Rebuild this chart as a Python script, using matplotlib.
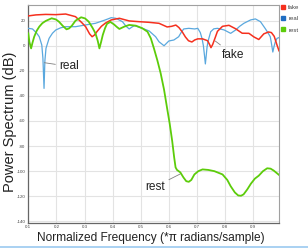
import matplotlib
matplotlib.use("Agg")
import matplotlib.pyplot as plt
from matplotlib.lines import Line2D

# ---------------- data ----------------
fake_x = [0.100, 0.127, 0.162, 0.198, 0.233, 0.268, 0.290, 0.304, 0.318, 0.327, 0.335, 0.345,
          0.360, 0.374, 0.395, 0.424, 0.459, 0.494, 0.529, 0.565, 0.594, 0.610, 0.625, 0.636,
          0.648, 0.659, 0.670, 0.682, 0.692, 0.703, 0.720, 0.738, 0.745, 0.750, 0.756, 0.765,
          0.773, 0.791, 0.814, 0.838, 0.861, 0.885, 0.903, 0.920, 0.938, 0.955, 0.965, 0.975,
          0.985, 0.992]
fake_y = [23.8, 24.6, 25.0, 24.8, 25.3, 23.2, 18.5, 15.2, 9.5, 7.2, 8.5, 11.5,
          15.5, 18.0, 20.6, 21.9, 19.8, 19.2, 18.7, 17.9, 15.0, 15.5, 16.5, 14.5,
          11.0, 7.0, 4.0, 3.0, 4.6, 5.5, 5.5, 4.0, 1.0, -1.5, 1.0, 6.5,
          11.5, 15.5, 16.3, 13.5, 10.0, 9.9, 7.0, 5.0, 9.5, 11.0, 10.5, 7.5,
          0.5, -4.0]

real_x = [0.100, 0.115, 0.130, 0.139, 0.148, 0.152, 0.156, 0.159, 0.163, 0.174, 0.186, 0.198,
          0.215, 0.233, 0.268, 0.304, 0.339, 0.374, 0.395, 0.412, 0.435, 0.448, 0.459, 0.468,
          0.477, 0.492, 0.506, 0.530, 0.553, 0.565, 0.583, 0.600, 0.618, 0.635, 0.645, 0.653,
          0.671, 0.692, 0.703, 0.712, 0.718, 0.723, 0.727, 0.730, 0.733, 0.736, 0.740, 0.749,
          0.760, 0.773, 0.797, 0.820, 0.838, 0.852, 0.867, 0.891, 0.908, 0.926, 0.944, 0.955,
          0.961, 0.965, 0.970, 0.975, 0.979, 0.985, 0.992]
real_y = [13.9, 13.4, 10.0, 7.2, 0.6, -10.0, -34.0, -12.0, -2.0, 5.9, 10.0, 12.6,
          14.3, 15.2, 15.2, 16.6, 17.9, 20.6, 22.4, 21.9, 19.2, 15.5, 13.4, 14.8,
          16.0, 15.0, 13.9, 11.8, 7.2, 3.2, 0.0, 3.8, 4.6, 7.2, 11.0, 13.4,
          13.9, 13.4, 13.9, 10.5, 5.9, 0.0, -8.0, -14.5, -8.0, -1.0, 4.0, 11.2,
          13.5, 13.9, 12.6, 9.9, 12.6, 15.5, 17.9, 20.6, 21.4, 19.2, 13.4, 9.5,
          7.2, 2.0, -5.0, 0.0, 3.2, 5.9, 6.5]

rest_x = [0.100, 0.104, 0.110, 0.115, 0.121, 0.130, 0.139, 0.150, 0.162, 0.183, 0.198, 0.209,
          0.222, 0.236, 0.245, 0.255, 0.268, 0.288, 0.302, 0.315, 0.328, 0.339, 0.347, 0.353,
          0.359, 0.365, 0.373, 0.380, 0.392, 0.405, 0.415, 0.424, 0.441, 0.459, 0.483, 0.506,
          0.524, 0.536, 0.547, 0.559, 0.571, 0.583, 0.594, 0.603, 0.612, 0.619, 0.624, 0.629,
          0.641, 0.652, 0.662, 0.671, 0.680, 0.691, 0.705, 0.720, 0.740, 0.762, 0.791, 0.808,
          0.820, 0.835, 0.847, 0.857, 0.866, 0.879, 0.892, 0.906, 0.920, 0.935, 0.950, 0.962,
          0.973, 0.985, 0.992]
rest_y = [9.9, 3.0, -2.1, 2.5, 7.2, 12.0, 15.2, 18.0, 19.8, 21.9, 21.0, 19.2,
          16.0, 13.1, 13.8, 16.0, 20.0, 22.7, 21.8, 19.2, 14.5, 9.9, 4.0, -2.1,
          3.0, 8.6, 14.0, 17.5, 19.0, 17.0, 15.0, 13.4, 15.2, 16.6, 16.0, 13.9,
          11.2, 5.9, -2.1, -11.5, -22.0, -35.0, -50.0, -62.0, -76.0, -89.0, -97.0, -99.0,
          -101.0, -105.0, -108.0, -108.5, -107.0, -102.6, -100.0, -98.6, -99.0, -100.0, -102.6, -107.0,
          -112.0, -117.0, -119.4, -119.6, -118.5, -114.6, -110.0, -106.0, -103.6, -100.0, -97.7, -98.0,
          -99.5, -101.7, -103.0]

series_names = ["fake", "real", "rest"]
series_colors = ["#f5301e", "#1f6dc2", "#5ccc0a"]
x_ticks = [0.1, 0.2, 0.3, 0.4, 0.5, 0.6, 0.7, 0.8, 0.9]
x_tick_labels = ["0.1", "0.2", "0.3", "0.4", "0.5", "0.6", "0.7", "0.8", "0.9"]
y_ticks = [20, 0, -20, -40, -60, -80, -100, -120, -140]
y_tick_labels = ["20", "0", "-20", "-40", "-60", "-80", "-100", "-120", "-140"]
x_label = "Normalized Frequency (*\u03c0 radians/sample)"
y_label = "Power Spectrum (dB)"

# ---------------- figure ----------------
W, H = 308, 248
DPI = 100
plt.rcParams['font.family'] = ['Liberation Sans', 'DejaVu Sans']
fig = plt.figure(figsize=(W / DPI, H / DPI), dpi=DPI)
fig.patch.set_facecolor("white")

def px(x0, y0, x1, y1):
    return [x0 / W, 1 - y1 / H, (x1 - x0) / W, (y1 - y0) / H]

ax = fig.add_axes(px(28.3, 5, 279, 222.7))
ax.set_xlim(0.1, 0.992)
ax.set_ylim(-141.1, 32.5)

ax.plot(real_x, real_y, color="#5aa8de", lw=0.9, zorder=3)
ax.plot(fake_x, fake_y, color="#f5301e", lw=1.1, zorder=4)
ax.plot(rest_x, rest_y, color="#5ccc0a", lw=1.3, zorder=5)

ax.set_xticks(x_ticks)
ax.set_xticklabels(x_tick_labels)
ax.set_yticks(y_ticks)
ax.set_yticklabels(y_tick_labels)
ax.tick_params(axis="both", length=0, labelsize=3.2, labelcolor="#444444", pad=2)
ax.grid(True, color="#e3e3e3", lw=0.8, zorder=0)
ax.set_axisbelow(True)
for side in ("left", "bottom"):
    ax.spines[side].set_color("#666666")
    ax.spines[side].set_linewidth(0.9)
for side in ("top", "right"):
    ax.spines[side].set_color("#a0a0a0")
    ax.spines[side].set_linewidth(0.8)

# labels
renderer = fig.canvas.get_renderer()

def fit(t, target_px):
    fs = t.get_fontsize()
    w = t.get_window_extent(renderer).width
    t.set_fontsize(fs * target_px / w)
    return t.get_fontsize()

xl = fig.text(151.2 / W, 1 - 237.5 / H, x_label, ha="center", va="center",
              fontsize=9, color="#222222")
fs_lab = fit(xl, 229)
yl = fig.text(10 / W, 1 - 122 / H, y_label, ha="center", va="center",
              rotation=90, fontsize=10, color="#222222")
t = fig.text(0, 0, y_label, fontsize=10)
s = 140 / t.get_window_extent(renderer).width
t.remove()
yl.set_fontsize(10 * s)

# annotations
ann_kw = dict(fontsize=fs_lab, color="#222222", va="center",
              arrowprops=dict(arrowstyle="-", color="#808080", lw=0.6,
                              shrinkA=1, shrinkB=0))
ax.annotate("real", xy=(0.157, -13.5), xytext=(0.211, -16.5), ha="left", **ann_kw)
ax.annotate("fake", xy=(0.765, 3.8), xytext=(0.789, -7.0), ha="left", **ann_kw)
ax.annotate("rest", xy=(0.641, -102.2), xytext=(0.586, -112.4), ha="right", **ann_kw)

# legend
handles = [Line2D([], [], ls="none", marker="s", markersize=2.8,
                  markerfacecolor=c, markeredgecolor=c) for c in series_colors]
fig.legend(handles, series_names, loc="upper left",
           bbox_to_anchor=(281 / W, 1 - 4.5 / H), frameon=False,
           fontsize=4.3, handlelength=0.6, handletextpad=0.6,
           labelspacing=1.05, borderpad=0, borderaxespad=0,
           labelcolor="#444444")

# bottom strip line
fig.add_artist(Line2D([0, 1], [1 - 246.5 / H, 1 - 246.5 / H], color="#a9d1f2", lw=1.4,
                      transform=fig.transFigure))

fig.savefig("out.png", dpi=DPI)
